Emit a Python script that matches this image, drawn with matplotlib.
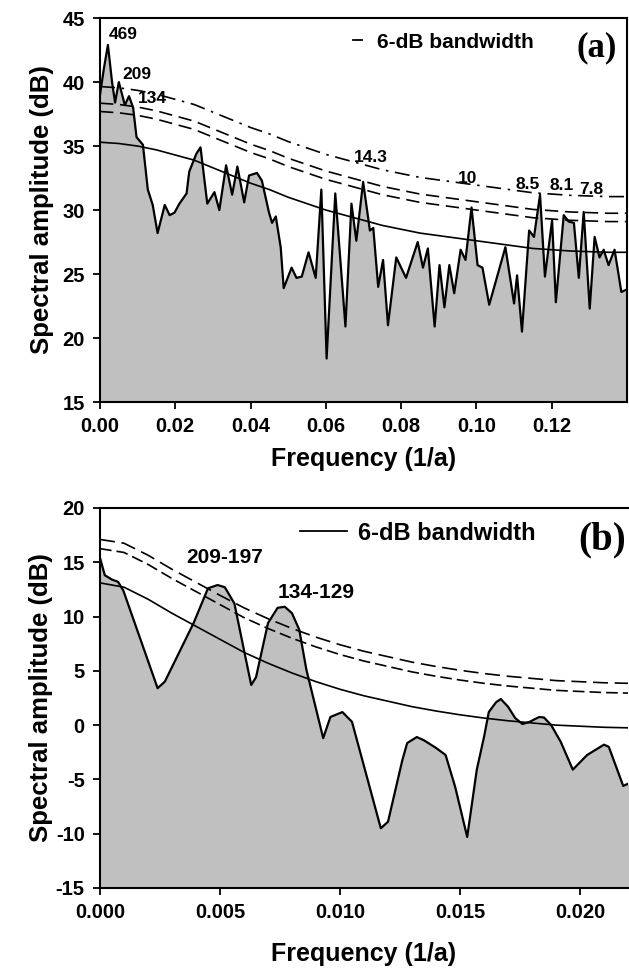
import numpy as np
import matplotlib
matplotlib.use("Agg")
import matplotlib.pyplot as plt
from matplotlib.lines import Line2D

plt.rcParams['font.family'] = ['Liberation Sans', 'DejaVu Sans']
plt.rcParams['font.weight'] = 'bold'
plt.rcParams['axes.unicode_minus'] = False

# ---- panel (a): spectrum
freq_a = [0.0000, 0.0010, 0.0021, 0.0032, 0.0040, 0.0050, 0.0066, 0.0077, 0.0088, 0.0097,
          0.0114, 0.0127, 0.0140, 0.0153, 0.0172, 0.0185, 0.0198, 0.0211, 0.0230, 0.0237,
          0.0256, 0.0267, 0.0285, 0.0304, 0.0317, 0.0335, 0.0351, 0.0365, 0.0383, 0.0396,
          0.0417, 0.0430, 0.0449, 0.0457, 0.0467, 0.0480, 0.0488, 0.0509, 0.0522, 0.0536,
          0.0554, 0.0573, 0.0588, 0.0602, 0.0625, 0.0652, 0.0668, 0.0681, 0.0699, 0.0717,
          0.0726, 0.0739, 0.0752, 0.0765, 0.0787, 0.0813, 0.0844, 0.0858, 0.0871, 0.0889,
          0.0902, 0.0915, 0.0928, 0.0941, 0.0958, 0.0971, 0.0987, 0.1003, 0.1016, 0.1034,
          0.1077, 0.1100, 0.1108, 0.1121, 0.1140, 0.1153, 0.1169, 0.1182, 0.1201, 0.1211,
          0.1232, 0.1245, 0.1259, 0.1272, 0.1285, 0.1301, 0.1314, 0.1327, 0.1338, 0.1351,
          0.1367, 0.1385, 0.1400]
amp_a = [39.0, 41.0, 42.9, 40.0, 38.4, 40.0, 38.2, 38.9, 38.0, 35.7,
         35.1, 31.6, 30.4, 28.2, 30.4, 29.6, 29.8, 30.5, 31.3, 33.0,
         34.4, 34.9, 30.5, 31.4, 30.0, 33.5, 31.2, 33.4, 30.6, 32.7,
         32.9, 32.3, 29.8, 29.0, 29.5, 27.1, 23.9, 25.5, 24.7, 24.8,
         26.7, 24.7, 31.6, 18.4, 31.3, 20.9, 30.5, 27.6, 32.2, 28.4,
         28.6, 24.0, 26.1, 21.0, 26.3, 24.7, 27.5, 25.5, 27.0, 20.9,
         25.7, 22.4, 25.7, 23.5, 26.9, 26.1, 30.2, 25.7, 25.5, 22.6,
         27.1, 22.7, 24.9, 20.5, 28.4, 27.9, 31.2, 24.8, 29.2, 22.8,
         29.6, 29.1, 29.0, 24.7, 29.85, 22.3, 27.9, 26.3, 26.9, 25.7,
         26.9, 23.6, 23.8]

# red-noise curves of panel (a)
fgrid_a = [0.000, 0.005, 0.010, 0.015, 0.020, 0.025, 0.030, 0.035, 0.040, 0.045,
           0.050, 0.055, 0.060, 0.065, 0.070, 0.075, 0.080, 0.085, 0.090, 0.095,
           0.100, 0.105, 0.110, 0.115, 0.120, 0.125, 0.130, 0.135, 0.140]
red_a = [35.3, 35.2, 35.0, 34.7, 34.3, 33.9, 33.3, 32.7, 32.1, 31.6,
         31.0, 30.5, 30.0, 29.6, 29.2, 28.8, 28.5, 28.2, 28.0, 27.8,
         27.6, 27.4, 27.2, 27.0, 26.9, 26.8, 26.75, 26.7, 26.7]
c99_a = [39.65, 39.55, 39.35, 39.05, 38.65, 38.25, 37.65, 37.05, 36.45, 35.95,
         35.35, 34.85, 34.35, 33.95, 33.55, 33.15, 32.85, 32.55, 32.35, 32.15,
         31.95, 31.75, 31.55, 31.35, 31.25, 31.15, 31.1, 31.05, 31.05]
c95_a = [38.35, 38.25, 38.05, 37.75, 37.35, 36.95, 36.35, 35.75, 35.15, 34.65,
         34.05, 33.55, 33.05, 32.65, 32.25, 31.85, 31.55, 31.25, 31.05, 30.85,
         30.65, 30.45, 30.25, 30.05, 29.95, 29.85, 29.8, 29.75, 29.75]
c90_a = [37.7, 37.6, 37.4, 37.1, 36.7, 36.3, 35.7, 35.1, 34.5, 34.0,
         33.4, 32.9, 32.4, 32.0, 31.6, 31.2, 30.9, 30.6, 30.4, 30.2,
         30.0, 29.8, 29.6, 29.4, 29.3, 29.2, 29.15, 29.1, 29.1]

peak_lbl_a = ["469", "209", "134", "14.3", "10", "8.5", "8.1", "7.8"]
peak_f_a = [0.0061, 0.0097, 0.0140, 0.0720, 0.0977, 0.1135, 0.1227, 0.1306]
peak_y_a = [43.7, 40.6, 38.7, 34.1, 32.5, 32.0, 31.9, 31.6]

# ---- panel (b)
freq_b = [0.0000, 0.0002, 0.0005, 0.00075, 0.00097, 0.0024, 0.0027, 0.0039, 0.0045, 0.0049,
          0.0052, 0.0056, 0.0060, 0.0063, 0.0065, 0.0070, 0.0074, 0.0077, 0.0080, 0.0083,
          0.0086, 0.0093, 0.0096, 0.0101, 0.0105, 0.0117, 0.0120, 0.0126, 0.0128, 0.0132,
          0.0135, 0.0140, 0.0144, 0.0148, 0.0153, 0.0157, 0.0160, 0.0162, 0.0165, 0.0167,
          0.0170, 0.0173, 0.0176, 0.0179, 0.0183, 0.0185, 0.0188, 0.0192, 0.0197, 0.0203,
          0.0210, 0.0212, 0.0218, 0.0221]
amp_b = [15.4, 13.8, 13.4, 13.2, 12.4, 3.4, 4.0, 9.4, 12.6, 12.9,
         12.7, 11.2, 6.9, 3.7, 4.4, 9.4, 10.8, 10.9, 10.3, 8.8,
         5.1, -1.2, 0.75, 1.2, 0.3, -9.5, -8.9, -3.2, -1.65, -1.1,
         -1.4, -2.1, -2.75, -5.7, -10.3, -4.1, -1.1, 1.2, 2.1, 2.4,
         1.7, 0.65, 0.1, 0.3, 0.75, 0.7, 0.0, -1.55, -4.1, -2.75,
         -1.8, -2.0, -5.6, -5.3]

fgrid_b = [0.000, 0.001, 0.002, 0.003, 0.004, 0.005, 0.006, 0.007, 0.008, 0.009,
           0.010, 0.011, 0.012, 0.013, 0.014, 0.015, 0.016, 0.017, 0.018, 0.019,
           0.020, 0.021, 0.022]
red_b = [13.1, 12.7, 11.6, 10.3, 9.1, 7.9, 6.7, 5.7, 4.8, 4.0,
         3.3, 2.7, 2.2, 1.7, 1.3, 0.95, 0.65, 0.4, 0.2, 0.0,
         -0.1, -0.2, -0.25]
c95_b = [17.1, 16.75, 15.65, 14.35, 13.15, 11.95, 10.8, 9.8, 8.9, 8.1,
         7.4, 6.8, 6.3, 5.8, 5.4, 5.05, 4.75, 4.5, 4.3, 4.1,
         4.0, 3.9, 3.85]
c90_b = [16.25, 15.9, 14.8, 13.5, 12.3, 11.1, 9.9, 8.9, 8.0, 7.2,
         6.5, 5.9, 5.4, 4.9, 4.5, 4.15, 3.85, 3.6, 3.4, 3.2,
         3.1, 3.0, 2.95]

peak_lbl_b = ["209-197", "134-129"]
peak_f_b = [0.0052, 0.0090]
peak_y_b = [15.4, 12.25]

grey = '#c0c0c0'
fig = plt.figure(figsize=(6.29, 9.77), dpi=100)

# ---------------- (a)
ax1 = fig.add_axes([0.159, 0.5885, 0.8378, 0.393])
ax1.fill_between(freq_a, amp_a, 15, color=grey, lw=0)
ax1.plot(freq_a, amp_a, color='k', lw=1.6)
ax1.plot(fgrid_a, red_a, color='k', lw=1.2)
ax1.plot(fgrid_a, c99_a, color='k', lw=1.2, dashes=(9, 4, 1.5, 4))
ax1.plot(fgrid_a, c95_a, color='k', lw=1.2, dashes=(8, 4))
ax1.plot(fgrid_a, c90_a, color='k', lw=1.2, dashes=(8, 4))
for t, xf, yv in zip(peak_lbl_a, peak_f_a, peak_y_a):
    ax1.text(xf, yv, t, ha='center', va='center', fontsize=12.5, fontweight='bold')
ax1.set_xlim(0, 0.14)
ax1.set_ylim(15, 45)
ax1.set_xticks([0.00, 0.02, 0.04, 0.06, 0.08, 0.10, 0.12])
ax1.set_xticklabels(['0.00', '0.02', '0.04', '0.06', '0.08', '0.10', '0.12'])
ax1.set_yticks([15, 20, 25, 30, 35, 40, 45])
ax1.set_xlabel('Frequency (1/a)', fontsize=18, fontweight='bold', labelpad=8)
ax1.set_ylabel('Spectral amplitude (dB)', fontsize=18.5, fontweight='bold', labelpad=6)
ax1.legend(handles=[Line2D([], [], color='k', lw=1.3)], labels=['6-dB bandwidth'],
           loc='center left', bbox_to_anchor=(0.48, 0.9375), frameon=False,
           borderpad=0, borderaxespad=0, handlelength=0.45, handletextpad=0.7,
           prop={'size': 15, 'weight': 'bold'})
ax1.text(0.943, 0.922, '(a)', transform=ax1.transAxes, ha='center', va='center',
         fontsize=25, fontweight='bold', family='Liberation Serif')

# ---------------- (b)
ax2 = fig.add_axes([0.159, 0.0911, 0.8394, 0.389])
ax2.fill_between(freq_b, amp_b, -15, color=grey, lw=0)
ax2.plot(freq_b, amp_b, color='k', lw=1.6)
ax2.plot(fgrid_b, red_b, color='k', lw=1.2)
ax2.plot(fgrid_b, c95_b, color='k', lw=1.2, dashes=(9, 4))
ax2.plot(fgrid_b, c90_b, color='k', lw=1.2, dashes=(7, 3))
for t, xf, yv in zip(peak_lbl_b, peak_f_b, peak_y_b):
    ax2.text(xf, yv, t, ha='center', va='center', fontsize=15, fontweight='bold')
ax2.set_xlim(0, 0.022)
ax2.set_ylim(-15, 20)
ax2.set_xticks([0.000, 0.005, 0.010, 0.015, 0.020])
ax2.set_xticklabels(['0.000', '0.005', '0.010', '0.015', '0.020'])
ax2.set_yticks([-15, -10, -5, 0, 5, 10, 15, 20])
ax2.spines['right'].set_visible(False)
ax2.set_xlabel('Frequency (1/a)', fontsize=18, fontweight='bold', labelpad=14)
ax2.set_ylabel('Spectral amplitude (dB)', fontsize=18.5, fontweight='bold', labelpad=2)
ax2.legend(handles=[Line2D([], [], color='k', lw=1.3)], labels=['6-dB bandwidth'],
           loc='center left', bbox_to_anchor=(0.379, 0.934), frameon=False,
           borderpad=0, borderaxespad=0, handlelength=2.0, handletextpad=0.47,
           prop={'size': 17, 'weight': 'bold'})
ax2.text(0.951, 0.916, '(b)', transform=ax2.transAxes, ha='center', va='center',
         fontsize=28, fontweight='bold', family='Liberation Serif')

for ax in (ax1, ax2):
    ax.tick_params(direction='out', length=5, width=1.3, labelsize=14.5, pad=6)
    for s in ax.spines.values():
        s.set_linewidth(1.5)
    for lab in ax.get_xticklabels() + ax.get_yticklabels():
        lab.set_fontweight('bold')

fig.savefig('out.png', dpi=100)
